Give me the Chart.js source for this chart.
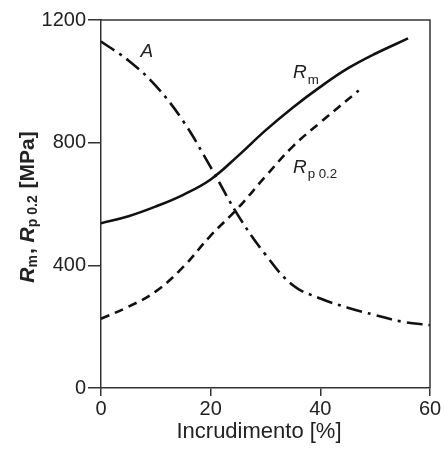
<!DOCTYPE html>
<html><head><meta charset="utf-8">
<script src="https://cdn.jsdelivr.net/npm/chart.js@4"></script>
<style>html,body{margin:0;padding:0;background:#fff}</style>
</head><body>
<canvas id="c" width="446" height="455"></canvas>
<script>
const rmX = [0, 5, 10, 15, 20, 25, 30, 35, 40, 45, 50, 56];
const rmY = [537, 560, 592, 630, 680, 757, 840, 915, 982, 1042, 1090, 1140];
const rpX = [0, 5, 10, 15, 20, 25, 30, 35, 40, 47];
const rpY = [226, 265, 315, 395, 497, 587, 690, 788, 866, 970];
const aX = [0, 5, 10, 15, 20, 25, 30, 35, 40, 45, 50, 55, 60];
const aY = [1130, 1068, 985, 870, 720, 563, 435, 335, 292, 262, 238, 216, 205];
const xTicks = [0, 20, 40, 60];
const yTicks = [0, 400, 800, 1200];
const FONT = '"Liberation Sans", Arial, sans-serif';

function pts(xs, ys){ return xs.map((x,i)=>({x:x, y:ys[i]})); }

const labelsPlugin = {
  id: 'labels',
  afterDraw(chart){
    const ctx = chart.ctx, ca = chart.chartArea;
    const xs = chart.scales.x, ys = chart.scales.y;
    ctx.save();
    ctx.strokeStyle = '#333'; ctx.lineWidth = 1.5;
    ctx.beginPath();
    ctx.moveTo(ca.left, ca.top); ctx.lineTo(ca.right, ca.top); ctx.lineTo(ca.right, ca.bottom);
    ctx.stroke();
    ctx.fillStyle = '#222';
    function sub(main, subs, x, y, size){
      ctx.font = 'italic ' + size + 'px ' + FONT;
      ctx.textAlign = 'left'; ctx.textBaseline = 'alphabetic';
      ctx.fillText(main, x, y);
      const w = ctx.measureText(main).width;
      if (subs){
        ctx.font = (size*0.7) + 'px ' + FONT;
        ctx.fillText(subs, x + w + 1, y + size*0.28);
      }
    }
    sub('A', '', xs.getPixelForValue(7.2), ys.getPixelForValue(1080), 19);
    sub('R', 'm', xs.getPixelForValue(35), ys.getPixelForValue(1010), 19);
    sub('R', 'p 0.2', xs.getPixelForValue(35), ys.getPixelForValue(701), 19);
    ctx.font = '22px ' + FONT;
    ctx.textAlign = 'center'; ctx.textBaseline = 'middle';
    ctx.fillText('Incrudimento [%]', 259, 432);
    ctx.translate(28, 207);
    ctx.rotate(-Math.PI/2);
    const parts = [['R','i',21],['m','s',14],[', ','n',21],['R','i',21],['p 0.2','s',14],[' [MPa]','n',21]];
    let total = 0;
    const fontOf = p => (p[1]==='i' ? 'italic bold ' : 'bold ') + p[2] + 'px ' + FONT;
    parts.forEach(p=>{ ctx.font = fontOf(p); total += ctx.measureText(p[0]).width + (p[1]==='s'?1:0); });
    let x = -total/2;
    ctx.textAlign = 'left'; ctx.textBaseline = 'middle';
    parts.forEach(p=>{
      ctx.font = fontOf(p);
      ctx.fillText(p[0], x, p[1]==='s' ? 5 : 0);
      x += ctx.measureText(p[0]).width + (p[1]==='s'?1:0);
    });
    ctx.restore();
  }
};

new Chart(document.getElementById('c'), {
  type: 'line',
  data: {
    datasets: [
      {data: pts(rmX, rmY), borderColor:'#111', borderWidth:2.6, tension:0.4, pointRadius:0, fill:false},
      {data: pts(rpX, rpY), borderColor:'#111', borderWidth:2.6, borderDash:[9,6], tension:0.4, pointRadius:0, fill:false},
      {data: pts(aX, aY), borderColor:'#111', borderWidth:2.6, borderDash:[16,6,3,6], tension:0.4, pointRadius:0, fill:false}
    ]
  },
  options: {
    responsive:false, animation:false,
    layout:{padding:{top:20, right:16, left:0, bottom:0}},
    plugins:{legend:{display:false}, tooltip:{enabled:false}},
    scales:{
      x:{type:'linear', min:0, max:60,
        afterBuildTicks: s => { s.ticks = xTicks.map(v=>({value:v})); },
        afterFit: s => { s.height = 455 - 388; },
        grid:{drawOnChartArea:false, drawTicks:true, tickLength:8, color:'#333', lineWidth:1.5},
        border:{color:'#333', width:1.5},
        ticks:{color:'#222', font:{family:FONT, size:20}, padding:1, maxRotation:0, callback: v => String(v)}
      },
      y:{type:'linear', min:0, max:1200,
        afterBuildTicks: s => { s.ticks = yTicks.map(v=>({value:v})); },
        afterFit: s => { s.width = 101; },
        grid:{drawOnChartArea:false, drawTicks:true, tickLength:13, color:'#333', lineWidth:1.5},
        border:{color:'#333', width:1.5},
        ticks:{color:'#222', font:{family:FONT, size:20}, padding:2, callback: v => String(v)}
      }
    }
  },
  plugins:[labelsPlugin]
});
</script>
</body></html>
